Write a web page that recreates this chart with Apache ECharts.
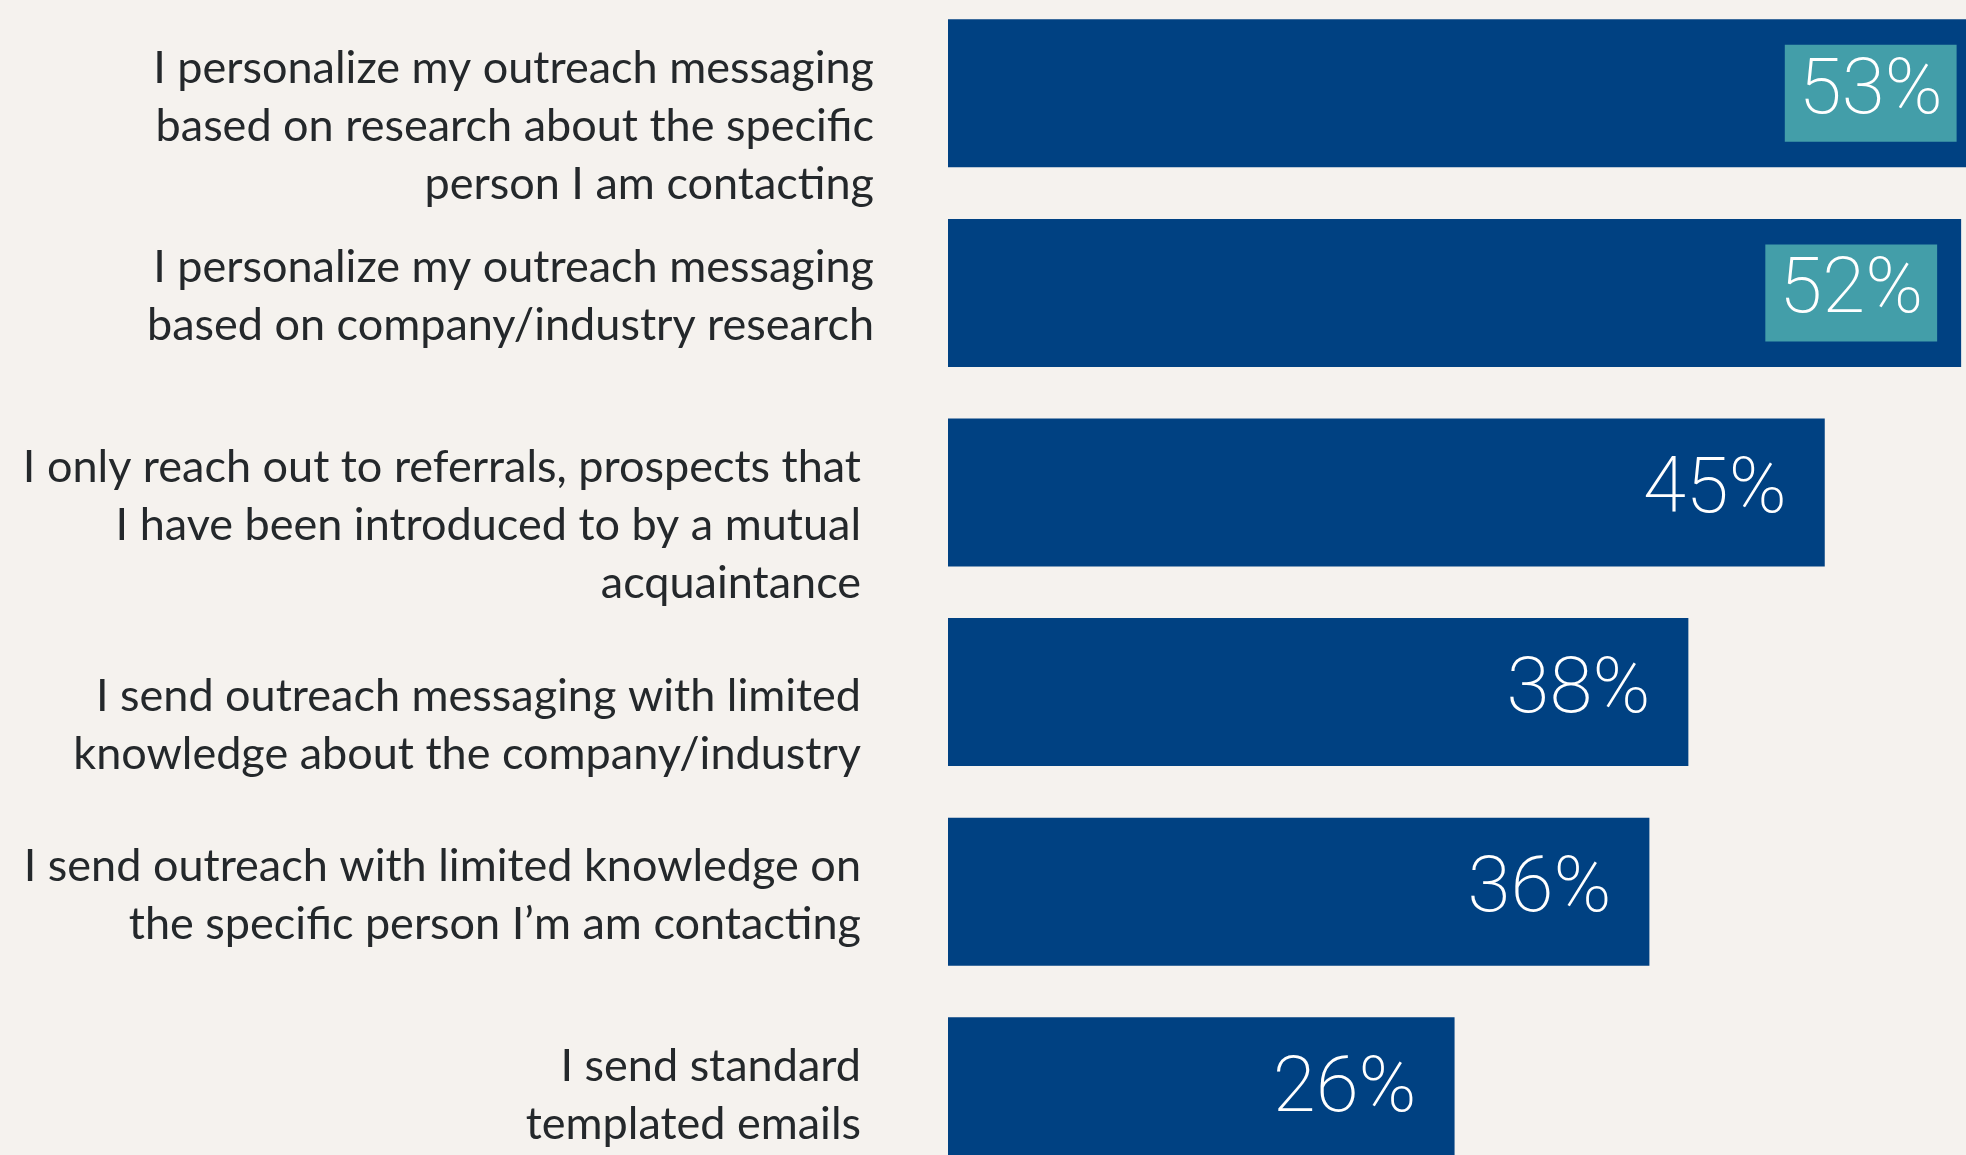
<!DOCTYPE html>
<html>
<head>
<meta charset="utf-8">
<script src="https://cdn.jsdelivr.net/npm/echarts@6/dist/echarts.min.js"></script>
<style>
    html, body { margin: 0; padding: 0; background: #f5f2ee; }
    #chart { width: 1966px; height: 1155px; }
</style>
</head>
<body>
<div id="chart"></div>
<script>
var categories = [
    "I personalize my outreach messaging\nbased on research about the specific\nperson I am contacting",
    "I personalize my outreach messaging\nbased on company/industry research",
    "I only reach out to referrals, prospects that\nI have been introduced to by a mutual\nacquaintance",
    "I send outreach messaging with limited\nknowledge about the company/industry",
    "I send outreach with limited knowledge on\nthe specific person I’m am contacting",
    "I send standard\ntemplated emails"
];
var values = [53, 52, 45, 38, 36, 26];
var highlighted = [true, true, false, false, false, false];

// label nudges to follow the original layout: push some labels down, extra right gap
var pushDown = [true, false, true, true, false, false];
var padRight = [0, 0, 13, 13, 13, 13];

var myChart = echarts.init(document.getElementById("chart"));

var yData = categories.map(function (c, i) {
    return {
        value: c,
        textStyle: { padding: [0, padRight[i], 0, 0] }
    };
});

var barData = values.map(function (v, i) {
    return {
        value: v,
        label: {
            backgroundColor: highlighted[i] ? "#439ea9" : "transparent"
        }
    };
});

var option = {
    backgroundColor: "#f5f2ee",
    animation: false,
    grid: {
        left: 948,
        top: -6.5,
        width: 1169,
        height: 1197.6,
        outerBoundsMode: "none",
        containLabel: false
    },
    xAxis: {
        type: "value",
        min: 0,
        max: 60,
        show: false
    },
    yAxis: {
        type: "category",
        inverse: true,
        data: yData,
        axisLine: { show: false },
        axisTick: { show: false },
        splitLine: { show: false },
        axisLabel: {
            margin: 74,
            color: "#24282b",
            fontFamily: "Lato",
            fontSize: 45,
            lineHeight: 58,
            align: "right",
            formatter: function (value, index) {
                return (pushDown[index] ? "{big| }" : "{small| }") + "\n" + value;
            },
            rich: {
                small: { fontSize: 8, lineHeight: 8 },
                big: { fontSize: 8, lineHeight: 66 }
            }
        }
    },
    series: [
        {
            type: "bar",
            data: barData,
            barWidth: 148,
            clip: false,
            itemStyle: { color: "#004182" },
            label: {
                show: true,
                position: "insideRight",
                distance: 24,
                formatter: "{c}%",
                color: "#ffffff",
                fontFamily: "Roboto",
                fontWeight: 200,
                fontSize: 78,
                lineHeight: 77,
                padding: [10, 14]
            }
        }
    ]
};
myChart.setOption(option);
</script>
</body>
</html>
